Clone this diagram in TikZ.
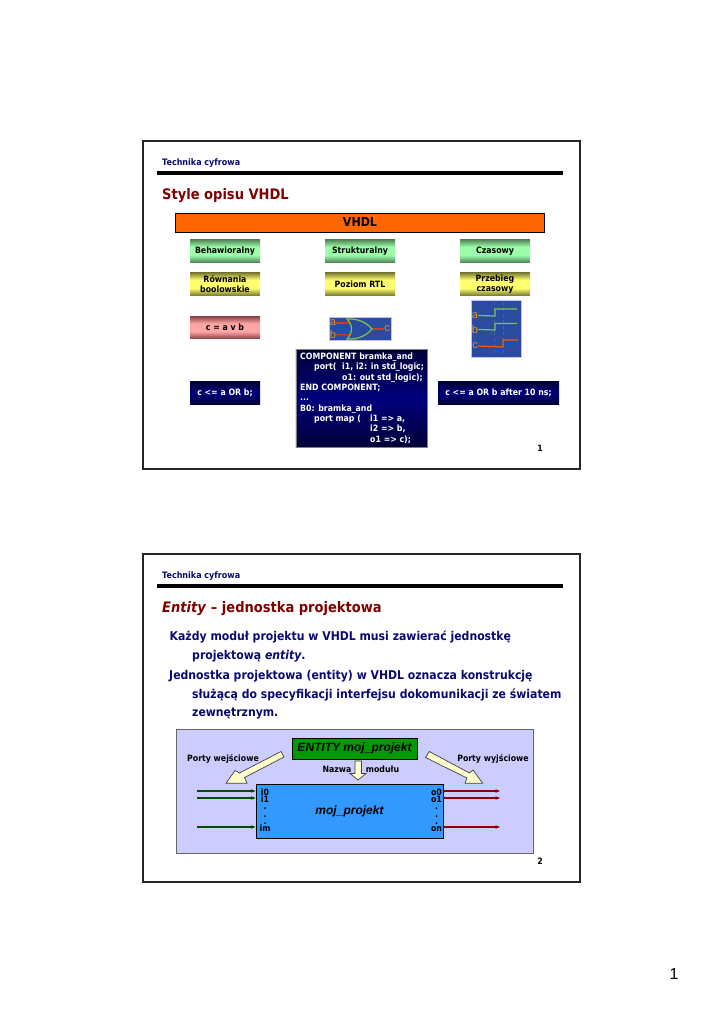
\documentclass[tikz,border=0pt]{standalone}
\usepackage{fontspec}
\usepackage{xcolor}
\setmainfont[FakeStretch=0.9]{DejaVu Sans}
\newfontfamily\arialfont{Liberation Sans}
\usetikzlibrary{arrows.meta,positioning}
\definecolor{navytext}{RGB}{10,10,110}
\definecolor{titlered}{RGB}{128,0,0}
\definecolor{panelblue}{RGB}{42,75,160}
\definecolor{wavegreen}{RGB}{120,200,70}
\definecolor{gatered}{RGB}{200,60,50}
\definecolor{labelorange}{RGB}{232,144,48}
\definecolor{gedge}{RGB}{85,135,90}
\definecolor{gmid}{RGB}{155,255,170}
\definecolor{yedge}{RGB}{125,125,50}
\definecolor{ymid}{RGB}{255,255,110}
\definecolor{pedge}{RGB}{135,65,75}
\definecolor{pmid}{RGB}{255,165,165}
\definecolor{nedge}{RGB}{0,0,55}
\definecolor{nmid}{RGB}{0,0,125}
\definecolor{paleyellow}{RGB}{255,255,204}
\pgfdeclareverticalshading{greenband}{100bp}{color(0bp)=(gedge); color(25bp)=(gedge); color(41bp)=(gmid); color(59bp)=(gmid); color(75bp)=(gedge); color(100bp)=(gedge)}
\pgfdeclareverticalshading{yellowband}{100bp}{color(0bp)=(yedge); color(25bp)=(yedge); color(41bp)=(ymid); color(59bp)=(ymid); color(75bp)=(yedge); color(100bp)=(yedge)}
\pgfdeclareverticalshading{pinkband}{100bp}{color(0bp)=(pedge); color(25bp)=(pedge); color(41bp)=(pmid); color(59bp)=(pmid); color(75bp)=(pedge); color(100bp)=(pedge)}
\pgfdeclareverticalshading{navyband}{100bp}{color(0bp)=(nedge); color(25bp)=(nedge); color(50bp)=(nmid); color(75bp)=(nedge); color(100bp)=(nedge)}
\newcommand{\sz}[1]{\fontsize{#1}{#1}\selectfont}
\begin{document}
\begin{tikzpicture}[
    x=1pt, y=-1pt,
    slide/.style={draw=black!85, line width=1.3pt, fill=white},
    hrule/.style={draw=black, line width=3.2pt},
    header/.style={anchor=west, inner sep=0pt, text=navytext, font=\sz{8.9}\bfseries},
    heading/.style={anchor=west, inner sep=0pt, text=titlered, font=\sz{14.5}\bfseries},
    bodyline/.style={anchor=west, inner sep=0pt, text=navytext, font=\sz{12.1}\bfseries},
    pagenum/.style={inner sep=0pt, font=\sz{8.7}\bfseries},
    band/.style={inner sep=0pt, minimum width=70pt, minimum height=22.5pt, align=center, font=\sz{8.7}\bfseries},
    greenbox/.style={band, shading=greenband},
    yellowbox/.style={band, shading=yellowband},
    pinkbox/.style={band, shading=pinkband},
    codebox/.style={band, shading=navyband, text=white},
    panel/.style={fill=panelblue, draw=blue!25!white, line width=0.5pt},
    wirered/.style={draw=gatered, line width=1.2pt},
    wiregreen/.style={draw=wavegreen, line width=1.2pt},
    pinlabel/.style={inner sep=0pt, text=labelorange, font=\sz{11}\arialfont},
    bigarrow/.style={draw=black!75, line width=0.7pt, fill=paleyellow},
    portlabel/.style={inner sep=0pt, font=\sz{8.7}\bfseries},
    pinlist/.style={anchor=north, inner sep=0pt, align=center, font=\fontsize{8.7}{7.3}\selectfont\bfseries},
    inport/.style={-{Stealth[length=4.5pt,width=3.5pt]}, draw=green!30!black, line width=1.2pt},
    outport/.style={-{Stealth[length=4.5pt,width=3.5pt]}, draw=red!55!black, line width=1.2pt}
]
    \useasboundingbox (0,0) rectangle (724,1024);
    \fill[white] (0,0) rectangle (724,1024);

    % first slide
    \draw[slide] (143,141) rectangle (580,469);
    \node[header] (head1) at (162,163.5) {Technika cyfrowa};
    \draw[hrule] (157,173) -- (563,173);
    \node[heading] (title1) at (162,196) {Style opisu VHDL};
    \node[draw=black, line width=0.8pt, fill=orange!80!red, inner sep=0pt, minimum width=369pt, minimum height=19pt, font=\sz{12.3}\bfseries] (vhdl) at (360,222.5) {VHDL};

    \node[greenbox] (beh) at (225,251) {Behawioralny};
    \node[greenbox] (str) at (360,251) {Strukturalny};
    \node[greenbox] (cza) at (495,251) {Czasowy};
    \node[yellowbox] (rown) at (225,284) {Równania\\[1.3pt]boolowskie};
    \node[yellowbox] (rtl) at (360,284) {Poziom RTL};
    \node[yellowbox] (prz) at (495,284) {Przebieg\\[1.3pt]czasowy};
    \node[pinkbox] (rowor) at (225,327.5) {c = a v b};

    % gate
    \draw[panel] (329,317) rectangle (391,340);
    \node[pinlabel] (ga) at (333,323) {a};
    \node[pinlabel] (gb) at (333,334.5) {b};
    \node[pinlabel] (gc) at (387,329) {c};
    \draw[wirered] (ga.east) -- (349,323);
    \draw[wirered] (gb.east) -- (350,335);
    \draw[wirered] (372,329) -- (gc.west);
    \draw[wiregreen, fill=panelblue] (347,319) .. controls (353,325) and (353,333) .. (347,339) .. controls (358,339.5) and (366,336) .. (372,329) .. controls (366,322) and (358,318.5) .. (347,319) -- cycle;

    % waveform
    \draw[panel] (471,300) rectangle (521,357);
    \draw[draw=blue!30!gray, line width=0.8pt, dashed] (494,302) -- (494,356);
    \draw[draw=blue!30!gray, line width=1pt, dashed] (503,302) -- (503,356);
    \node[pinlabel] (wa) at (475,315.5) {a};
    \node[pinlabel] (wb) at (475,329.5) {b};
    \node[pinlabel] (wc) at (475,346) {c};
    \draw[wiregreen] (wa.east) -- (495,316) -- (495,309) -- (517,309);
    \draw[wiregreen] (wb.east) -- (495,330) -- (495,323.5) -- (517,323.5);
    \draw[draw=orange!70!red, line width=1.2pt] (wc.east) -- (503,347) -- (503,340) -- (518,340);

    \node[codebox] (cor) at (225,393) {c <= a OR b;};
    \node[codebox, draw=black!50, line width=0.4pt, minimum width=131.5pt, minimum height=98pt] (comp) at (361.7,398.5) {};
    \node[anchor=north west, inner sep=0pt, text=white, align=left, font=\fontsize{8.7}{10.35}\selectfont\bfseries] (comptext) at (300,352.5) {COMPONENT bramka\_and\\
    \hspace*{14pt}\makebox[28pt][l]{port(}i1, i2: in std\_logic;\\
    \hspace*{42pt}o1: out std\_logic);\\
    END COMPONENT;\\
    ...\\
    B0: bramka\_and\\
    \hspace*{14pt}\makebox[56pt][l]{port map (}i1 => a,\\
    \hspace*{70pt}i2 => b,\\
    \hspace*{70pt}o1 => c);};
    \node[codebox, minimum width=121pt] (cafter) at (498.5,393) {c <= a OR b after 10 ns;};
    \node[pagenum] (num1) at (540,448) {1};

    % second slide
    \draw[slide] (143,554) rectangle (580,882);
    \node[header] (head2) at (162,576) {Technika cyfrowa};
    \draw[hrule] (157,586) -- (563,586);
    \node[heading] (title2) at (162,609) {\textit{Entity} – jednostka projektowa};
    \node[bodyline] (line1) at (169.5,637) {Każdy moduł projektu w VHDL musi zawierać jednostkę};
    \node[bodyline] (line2) at (192,656) {projektową \textit{entity}.};
    \node[bodyline] (line3) at (169,676) {Jednostka projektowa (entity) w VHDL oznacza konstrukcję};
    \node[bodyline] (line4) at (192,695) {służącą do specyfikacji interfejsu dokomunikacji ze światem};
    \node[bodyline] (line5) at (192,714) {zewnętrznym.};

    \draw[draw=black!60, line width=1pt, fill={rgb,255:red,204;green,204;blue,255}] (176,729) rectangle (533.5,853);
    \node[draw=black, line width=0.8pt, fill=green!60!black, inner sep=0pt, minimum width=125pt, minimum height=21pt, font=\sz{12}\arialfont\bfseries\itshape] (ent) at (354.5,748.5) {ENTITY moj\_projekt};
    \node[draw=black, line width=0.8pt, fill={rgb,255:red,51;green,153;blue,255}, inner sep=0pt, minimum width=187pt, minimum height=54pt, font=\sz{12}\arialfont\bfseries\itshape] (modul) at (349.5,811) {moj\_projekt};

    \node[portlabel] (pwe) at (223,758.5) {Porty wejściowe};
    \node[portlabel] (pwy) at (493,758.5) {Porty wyjściowe};
    \node[portlabel] (naz) at (337,769.5) {Nazwa};
    \node[portlabel] (mod) at (382.5,769.5) {modułu};
    \draw[bigarrow] (281,751.5) -- (284,757) -- (244.5,777.5) -- (247,783.3) -- (226,783.3) -- (235,770.5) -- (239.5,773) -- cycle;
    \draw[bigarrow] (429.3,751.5) -- (425.5,757.5) -- (467,778) -- (465,783.3) -- (482.7,783.3) -- (473,770) -- (469.5,773) -- cycle;
    \draw[bigarrow] (355,761) -- (361.5,761) -- (361.5,773.5) -- (366,773.5) -- (358,780) -- (350,773.5) -- (355,773.5) -- cycle;

    \coordinate (i0) at (197,791);
    \coordinate (i1) at (197,798);
    \coordinate (im) at (197,827);
    \coordinate (o0) at (500,791);
    \coordinate (o1) at (500,798);
    \coordinate (on) at (500,827);
    \foreach \p in {i0,i1,im} {
        \draw[inport] (\p) -- (\p -| modul.west);
    }
    \foreach \p in {o0,o1,on} {
        \draw[outport] (\p -| modul.east) -- (\p);
    }
    \node[pinlist] (inpins) at (265,788.5) {i0\\i1\\.\\.\\.\\im};
    \node[pinlist] (outpins) at (436.5,788.7) {o0\\o1\\.\\.\\.\\on};
    \node[pagenum] (num2) at (540,861) {2};

    \node[inner sep=0pt, font=\sz{16}\arialfont] (page) at (674,974) {1};
\end{tikzpicture}
\end{document}
